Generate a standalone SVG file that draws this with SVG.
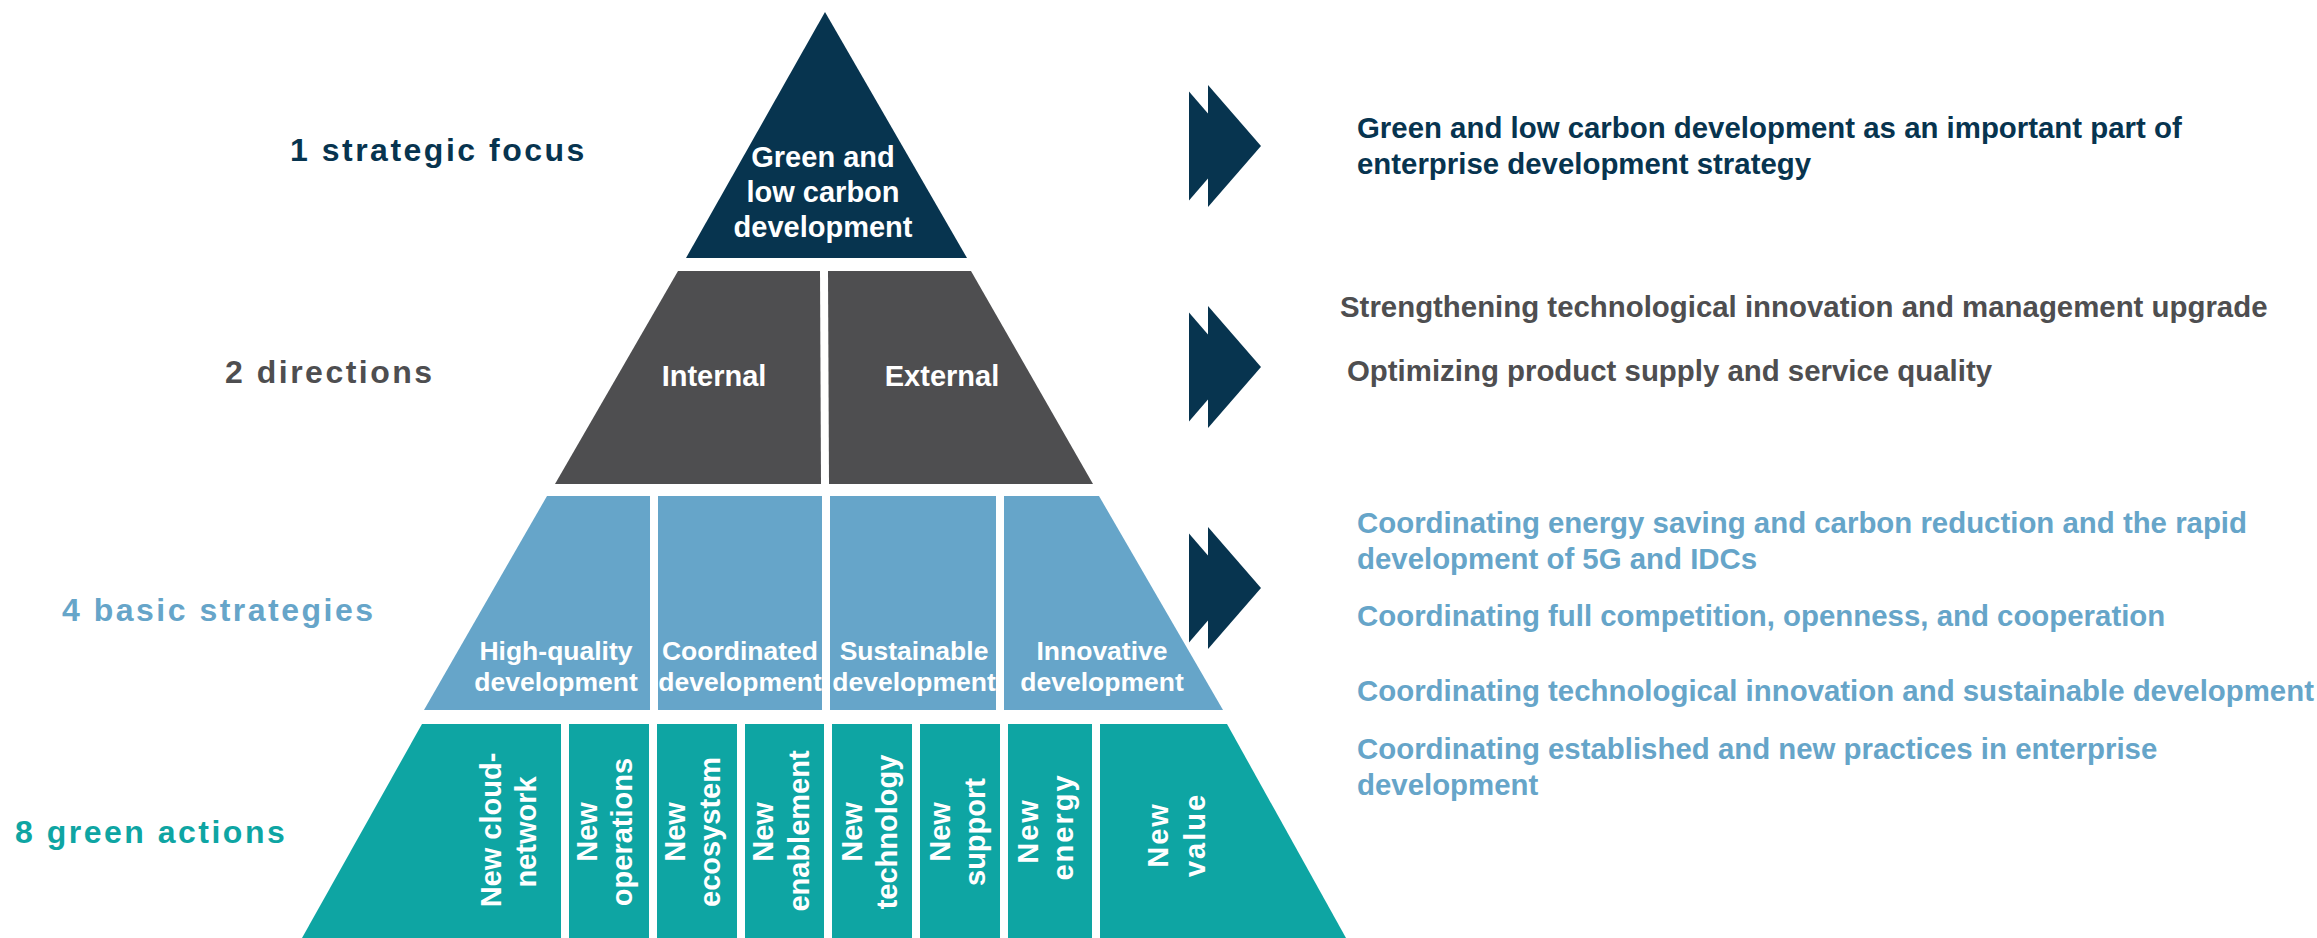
<svg xmlns="http://www.w3.org/2000/svg" xmlns:xlink="http://www.w3.org/1999/xlink" width="2317" height="938" viewBox="0 0 2317 938">
  <defs>
    <style>
      text { font-family: "Liberation Sans", Arial, sans-serif; font-weight: bold; }
      .lbl { font-size: 32px; letter-spacing: 2.5px; }
      .in { fill: #ffffff; font-size: 29px; text-anchor: middle; }
      .t3 { font-size: 26.5px; }
      .v { fill: #ffffff; font-size: 29px; text-anchor: middle; }
      .sp { letter-spacing: 2px; }
      .side { font-size: 29.4px; }
      .navy { fill: #07344f; }
      .grey { fill: #4e4e50; }
      .sky { fill: #66a5c9; }
      .teal { fill: #0ea5a3; }
    </style>
    <!-- double chevron, origin at the left edge of the rear piece, vertically centred -->
    <g id="chev">
      <polygon points="0,-54.5 47,0 0,54.5"/>
      <polygon points="19,-61 72,0 19,61"/>
    </g>
  </defs>

  <rect x="0" y="0" width="2317" height="938" fill="#ffffff"/>

  <!-- level labels -->
  <g id="level-labels">
    <text class="lbl navy" x="290" y="161">1 strategic focus</text>
    <text class="lbl grey" x="225" y="383">2 directions</text>
    <text class="lbl sky" x="62" y="621">4 basic strategies</text>
    <text class="lbl teal" x="15" y="843">8 green actions</text>
  </g>

  <!-- tier 1: strategic focus -->
  <g id="focus">
    <polygon class="navy" points="825,12 967,258 686,258"/>
    <text class="in" x="823" y="167">Green and</text>
    <text class="in" x="823" y="202">low carbon</text>
    <text class="in" x="823" y="237">development</text>
  </g>

  <!-- tier 2: directions -->
  <g id="dir-internal">
    <polygon class="grey" points="678,271 820,271 821,484 555,484"/>
    <text class="in" x="714" y="386">Internal</text>
  </g>
  <g id="dir-external">
    <polygon class="grey" points="828,271 971,271 1093,484 829,484"/>
    <text class="in" x="942" y="386">External</text>
  </g>

  <!-- tier 3: basic strategies -->
  <g id="st-high-quality">
    <polygon class="sky" points="547,496 650,496 650,710 424,710"/>
    <text class="in t3" x="556" y="660">High-quality</text>
    <text class="in t3" x="556" y="691">development</text>
  </g>
  <g id="st-coordinated">
    <rect class="sky" x="658" y="496" width="164" height="214"/>
    <text class="in t3" x="740" y="660">Coordinated</text>
    <text class="in t3" x="740" y="691">development</text>
  </g>
  <g id="st-sustainable">
    <rect class="sky" x="830" y="496" width="166" height="214"/>
    <text class="in t3" x="914" y="660">Sustainable</text>
    <text class="in t3" x="914" y="691">development</text>
  </g>
  <g id="st-innovative">
    <polygon class="sky" points="1004,496 1099,496 1223,710 1004,710"/>
    <text class="in t3" x="1102" y="660">Innovative</text>
    <text class="in t3" x="1102" y="691">development</text>
  </g>

  <!-- tier 4: green actions (vertical labels) -->
  <g id="act-cloud-network">
    <polygon class="teal" points="422,724 561,724 561,938 302,938"/>
    <text class="v" transform="translate(501,830) rotate(-90)">New cloud-</text>
    <text class="v" transform="translate(536,832) rotate(-90)">network</text>
  </g>
  <g id="act-operations">
    <rect class="teal" x="569" y="724" width="80" height="214"/>
    <text class="v" transform="translate(597,832) rotate(-90)">New</text>
    <text class="v" transform="translate(632,832) rotate(-90)">operations</text>
  </g>
  <g id="act-ecosystem">
    <rect class="teal" x="657" y="724" width="80" height="214"/>
    <text class="v" transform="translate(685,832) rotate(-90)">New</text>
    <text class="v" transform="translate(720,832) rotate(-90)">ecosystem</text>
  </g>
  <g id="act-enablement">
    <rect class="teal" x="745" y="724" width="79" height="214"/>
    <text class="v" transform="translate(773,832) rotate(-90)">New</text>
    <text class="v" transform="translate(809,831) rotate(-90)">enablement</text>
  </g>
  <g id="act-technology">
    <rect class="teal" x="832" y="724" width="80" height="214"/>
    <text class="v" transform="translate(862,832) rotate(-90)">New</text>
    <text class="v" transform="translate(897,832) rotate(-90)">technology</text>
  </g>
  <g id="act-support">
    <rect class="teal" x="920" y="724" width="80" height="214"/>
    <text class="v" transform="translate(950,832) rotate(-90)">New</text>
    <text class="v" transform="translate(985,832) rotate(-90)">support</text>
  </g>
  <g id="act-energy">
    <rect class="teal" x="1008" y="724" width="84" height="214"/>
    <text class="v sp" transform="translate(1038,831) rotate(-90)">New</text>
    <text class="v sp" transform="translate(1073,827) rotate(-90)">energy</text>
  </g>
  <g id="act-value">
    <polygon class="teal" points="1100,724 1227,724 1346,938 1100,938"/>
    <text class="v sp" transform="translate(1168,835) rotate(-90)">New</text>
    <text class="v sp" transform="translate(1205,835) rotate(-90)">value</text>
  </g>

  <!-- chevrons pointing from each level to its description -->
  <g id="connectors" class="navy">
    <use xlink:href="#chev" href="#chev" x="1189" y="146"/>
    <use xlink:href="#chev" href="#chev" x="1189" y="367"/>
    <use xlink:href="#chev" href="#chev" x="1189" y="588"/>
  </g>

  <!-- descriptions -->
  <g id="desc-focus">
    <text class="side navy" x="1357" y="138">Green and low carbon development as an important part of</text>
    <text class="side navy" x="1357" y="174">enterprise development strategy</text>
  </g>
  <g id="desc-directions">
    <text class="side grey" x="1340" y="317">Strengthening technological innovation and management upgrade</text>
    <text class="side grey" x="1347" y="381">Optimizing product supply and service quality</text>
  </g>
  <g id="desc-strategies">
    <text class="side sky" x="1357" y="533">Coordinating energy saving and carbon reduction and the rapid</text>
    <text class="side sky" x="1357" y="569">development of 5G and IDCs</text>
    <text class="side sky" x="1357" y="626">Coordinating full competition, openness, and cooperation</text>
    <text class="side sky" x="1357" y="701">Coordinating technological innovation and sustainable development</text>
    <text class="side sky" x="1357" y="759">Coordinating established and new practices in enterprise</text>
    <text class="side sky" x="1357" y="795">development</text>
  </g>
</svg>
